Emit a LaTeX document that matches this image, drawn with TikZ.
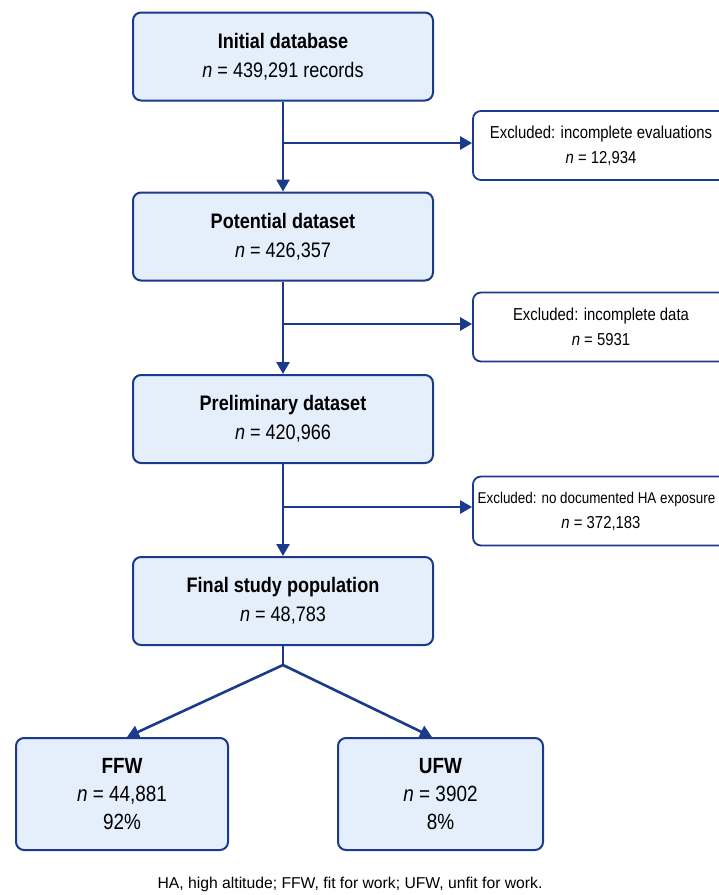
\documentclass[tikz,border=0pt]{standalone}
\usepackage{fontspec}
\setmainfont{Liberation Sans}[FakeStretch=0.86]
\newfontfamily\footfont{Liberation Sans}
\usetikzlibrary{arrows.meta}
\definecolor{navy}{HTML}{1C3A8C}
\definecolor{boxfill}{HTML}{E5EEFB}
\begin{document}
\begin{tikzpicture}[x=1pt,y=-1pt,
  mainbox/.style={draw=navy, line width=2pt, fill=boxfill, rounded corners=8pt,
    minimum width=300pt, minimum height=88pt, align=center, inner sep=0pt,
    font=\fontsize{21}{29}\selectfont},
  exbox/.style={draw=navy, line width=1.8pt, fill=white, rounded corners=8pt,
    minimum width=256pt, minimum height=69pt, align=center, inner sep=0pt,
    font=\fontsize{17.3}{25}\selectfont},
  outbox/.style={draw=navy, line width=2pt, fill=boxfill, rounded corners=8pt,
    minimum height=112pt, align=center, inner sep=0pt,
    font=\fontsize{22}{28}\selectfont},
  conn/.style={draw=navy, line width=2.6pt},
  arr/.style={conn, -{Triangle[length=12pt,width=13pt]}}
]
\clip (0,0) rectangle (719,895);
\fill[white] (0,0) rectangle (719,895);

\node[mainbox] (init) at (283,56.5) {\textbf{Initial database}\\\textit{n} = 439,291 records};
\node[mainbox] (pot) at (283,236.5) {\textbf{Potential dataset}\\\textit{n} = 426,357};
\node[mainbox] (pre) at (283,419) {\textbf{Preliminary dataset}\\\textit{n} = 420,966};
\node[mainbox] (fin) at (283,601) {\textbf{Final study population}\\\textit{n} = 48,783};

\node[exbox] (ex1) at (601,145.5) {Excluded: incomplete evaluations\\\textit{n} = 12,934};
\node[exbox] (ex2) at (601,327) {Excluded: incomplete data\\\textit{n} = 5931};
\node[exbox, font=\fontsize{15.6}{25}\selectfont] (ex3) at (601,511) {\hspace*{-9pt}Excluded: no documented HA exposure\\\fontsize{17.3}{25}\selectfont\textit{n} = 372,183};

\node[outbox, minimum width=212pt] (ffw) at (122,794) {\textbf{FFW}\\\textit{n} = 44,881\\92\%};
\node[outbox, minimum width=205pt] (ufw) at (440.5,794) {\textbf{UFW}\\\textit{n} = 3902\\8\%};

\coordinate (b1) at (283,143);
\coordinate (b2) at (283,324);
\coordinate (b3) at (283,507);
\coordinate (sp) at (283,665);

\draw[arr] (init.south -| b1) -- (pot.north -| b1);
\draw[arr] (pot.south -| b1) -- (pre.north -| b1);
\draw[arr] (pre.south -| b1) -- (fin.north -| b1);
\draw[arr] (b1) -- (ex1.west |- b1);
\draw[arr] (b2) -- (ex2.west |- b2);
\draw[arr] (b3) -- (ex3.west |- b3);
\draw[conn] (fin.south -| sp) -- (sp);
\draw[arr] (sp) -- (ffw.north -| 127,0);
\draw[arr] (sp) -- (ufw.north -| 432,0);

\node[font=\footfont\fontsize{15.7}{18}\selectfont] (foot) at (350,884) {HA, high altitude; FFW, fit for work; UFW, unfit for work.};
\end{tikzpicture}
\end{document}
